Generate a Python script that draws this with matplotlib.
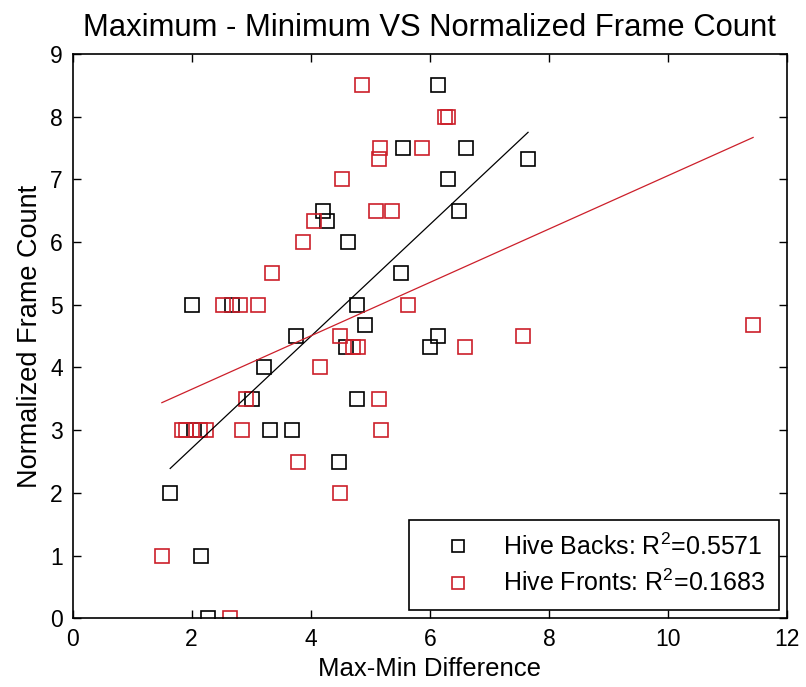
import numpy as np
import matplotlib
matplotlib.use('Agg')
import matplotlib.pyplot as plt

plt.rcParams['font.family'] = ['Liberation Sans', 'DejaVu Sans']
plt.rcParams['mathtext.fontset'] = 'custom'
plt.rcParams['mathtext.rm'] = 'Liberation Sans'

# hive backs
back_x = [1.64, 2.16, 2.27, 2.00, 2.04, 2.68, 3.02, 3.21, 3.31, 3.68, 3.76,
          4.21, 4.28, 4.48, 4.60, 4.62, 4.78, 4.78, 4.92, 5.52, 5.55, 6.00,
          6.13, 6.14, 6.31, 6.49, 6.60, 7.65]
back_y = [2, 1, 0, 5, 3, 5, 3.5, 4, 3, 3, 4.5,
          6.5, 6.33, 2.5, 4.33, 6, 5, 3.5, 4.67, 5.5, 7.5, 4.33,
          8.5, 4.5, 7, 6.5, 7.5, 7.33]

# hive fronts
front_x = [1.50, 1.83, 1.90, 2.14, 2.24, 2.52, 2.65, 2.82, 2.84, 2.91, 3.12,
           3.35, 3.79, 3.87, 4.05, 4.15, 4.50, 4.50, 4.53, 4.71, 4.80, 4.86,
           5.09, 5.14, 5.14, 5.17, 5.18, 5.37, 5.63, 5.87, 6.26, 6.30, 6.59,
           7.56, 11.43]
front_y = [1, 3, 3, 3, 3, 5, 0, 5, 3, 3.5, 5,
           5.5, 2.5, 6, 6.33, 4, 4.5, 2, 7, 4.33, 4.33, 8.5,
           6.5, 7.33, 3.5, 7.5, 3, 6.5, 5, 7.5, 8, 8, 4.33,
           4.5, 4.67]

# linear fits (slope, intercept)
back_fit = (0.892, 0.927)
front_fit = (0.426, 2.80)

labels = ['Hive Backs: R$^2$=0.5571', 'Hive Fronts: R$^2$=0.1683']
red = '#cc1f2a'

fig = plt.figure(figsize=(8.06, 6.87), dpi=100)
ax = fig.add_axes([0.09, 0.1, 0.8865, 0.8214])

ax.plot(back_x, back_y, 's', mfc='none', mec='black', ms=9.5, mew=1.2,
        label=labels[0])
ax.plot(front_x, front_y, 's', mfc='none', mec=red, ms=9.5, mew=1.2,
        label=labels[1])

for xs, (k, b), c in [(back_x, back_fit, 'black'),
                      (front_x, front_fit, red)]:
    xx = np.array([min(xs), max(xs)])
    ax.plot(xx, k * xx + b, '-', color=c, lw=0.9)

ax.set_xlim(0, 12)
ax.set_ylim(0, 9)
ax.set_xticks(range(0, 13, 2))
ax.set_yticks(range(0, 10))
ax.tick_params(direction='in', top=True, right=True, length=6, width=1,
               labelsize=16.5, pad=7)
for s in ax.spines.values():
    s.set_linewidth(1.2)

ax.set_title('Maximum - Minimum VS Normalized Frame Count', fontsize=22.3,
             pad=13)
ax.set_xlabel('Max-Min Difference', fontsize=18.5, labelpad=4)
ax.set_ylabel('Normalized Frame Count', fontsize=19.5, labelpad=5)

leg = ax.legend(loc='lower right', fontsize=18, fancybox=False,
                edgecolor='black', framealpha=1, borderpad=0.55,
                handlelength=2.8, handletextpad=0.4, labelspacing=0.4,
                borderaxespad=0.33, markerscale=0.85)
leg.get_frame().set_linewidth(1.2)

fig.savefig('out.png', dpi=100)
